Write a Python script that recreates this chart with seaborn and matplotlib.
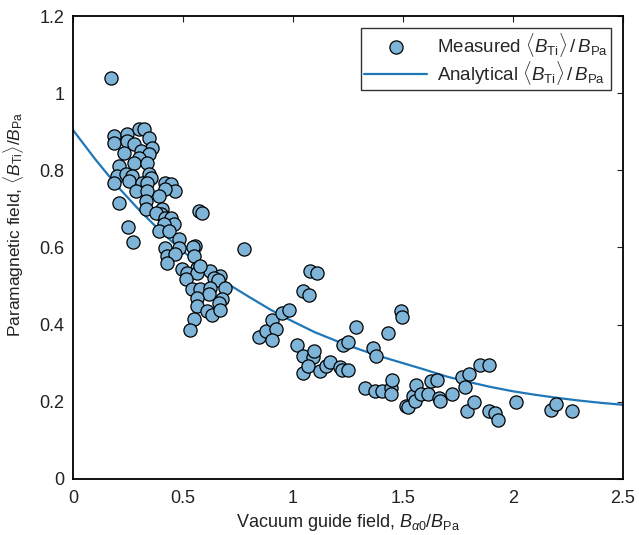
import matplotlib
matplotlib.use("Agg")
import numpy as np
import pandas as pd
import matplotlib.pyplot as plt
from matplotlib.ticker import FuncFormatter
import seaborn as sns

# measured points
meas_x = [
    0.172, 0.187, 0.187, 0.248, 0.248, 0.300, 0.323, 0.346, 0.361, 0.278,
    0.232, 0.308, 0.346, 0.300, 0.278, 0.338, 0.210, 0.202, 0.240, 0.270,
    0.346, 0.355, 0.187, 0.255, 0.316, 0.338, 0.421, 0.448, 0.466, 0.285,
    0.338, 0.421, 0.391, 0.331, 0.210, 0.331, 0.406, 0.399, 0.376, 0.572,
    0.587, 0.421, 0.444, 0.459, 0.413, 0.391, 0.436, 0.250, 0.275, 0.481,
    0.421, 0.481, 0.557, 0.548, 0.429, 0.466, 0.549, 0.429, 0.776, 0.497,
    0.565, 0.520, 0.625, 0.670, 0.565, 0.580, 0.512, 0.640, 0.660, 0.693,
    0.542, 0.580, 0.625, 0.617, 0.565, 0.678, 0.663, 0.565, 0.610, 0.633,
    0.670, 0.549, 0.534,
    0.844, 0.879, 0.904, 0.924, 0.904, 0.950, 0.980, 1.018, 1.045, 1.075,
    1.078, 1.111, 1.048, 1.093, 1.096, 1.045, 1.070, 1.123, 1.150, 1.168,
    1.214, 1.221, 1.251, 1.229, 1.251, 1.285, 1.327, 1.362, 1.377, 1.372,
    1.403, 1.430, 1.445, 1.445, 1.448, 1.489, 1.496,
    1.513, 1.523, 1.546, 1.553, 1.558, 1.584, 1.614, 1.629, 1.654, 1.664,
    1.670, 1.724, 1.769, 1.780, 1.799, 1.792, 1.825, 1.848, 1.893, 1.889,
    1.920, 1.934, 2.014, 2.173, 2.195, 2.270,
]
meas_y = [
    1.040, 0.889, 0.872, 0.894, 0.876, 0.906, 0.906, 0.885, 0.859, 0.868,
    0.846, 0.850, 0.842, 0.833, 0.820, 0.820, 0.811, 0.785, 0.790, 0.785,
    0.790, 0.780, 0.768, 0.772, 0.768, 0.768, 0.768, 0.764, 0.746, 0.746,
    0.746, 0.751, 0.733, 0.720, 0.716, 0.699, 0.699, 0.686, 0.690, 0.694,
    0.690, 0.677, 0.677, 0.660, 0.660, 0.642, 0.642, 0.654, 0.615, 0.621,
    0.599, 0.599, 0.603, 0.600, 0.577, 0.582, 0.577, 0.560, 0.597, 0.543,
    0.547, 0.534, 0.538, 0.525, 0.534, 0.551, 0.517, 0.521, 0.515, 0.495,
    0.491, 0.491, 0.495, 0.478, 0.469, 0.465, 0.456, 0.448, 0.435, 0.426,
    0.439, 0.415, 0.387,
    0.368, 0.383, 0.411, 0.389, 0.361, 0.430, 0.437, 0.346, 0.488, 0.476,
    0.538, 0.534, 0.318, 0.316, 0.331, 0.274, 0.292, 0.279, 0.292, 0.304,
    0.290, 0.283, 0.283, 0.346, 0.354, 0.394, 0.236, 0.338, 0.318, 0.229,
    0.229, 0.377, 0.236, 0.221, 0.255, 0.435, 0.420,
    0.188, 0.185, 0.214, 0.201, 0.242, 0.221, 0.221, 0.253, 0.255, 0.210,
    0.203, 0.221, 0.264, 0.238, 0.273, 0.177, 0.198, 0.294, 0.294, 0.177,
    0.171, 0.153, 0.199, 0.179, 0.194, 0.177,
]

# analytical curve, every 0.1
curve_x = [0.0, 0.1, 0.2, 0.3, 0.4, 0.5, 0.6, 0.7, 0.8, 0.9, 1.0, 1.1, 1.2,
           1.3, 1.4, 1.5, 1.6, 1.7, 1.8, 1.9, 2.0, 2.1, 2.2, 2.3, 2.4, 2.5]
curve_y = [0.905, 0.830, 0.760, 0.698, 0.641, 0.590, 0.546, 0.507, 0.472,
           0.438, 0.408, 0.380, 0.357, 0.336, 0.317, 0.300, 0.283, 0.265,
           0.251, 0.238, 0.227, 0.218, 0.210, 0.203, 0.197, 0.192]

x_ticks = [0, 0.5, 1, 1.5, 2, 2.5]
y_ticks = [0, 0.2, 0.4, 0.6, 0.8, 1.0, 1.2]

sns.set_style("white")
plt.rcParams['font.family'] = ['Liberation Sans', 'DejaVu Sans']
plt.rcParams['mathtext.fontset'] = 'custom'
plt.rcParams['mathtext.rm'] = 'Liberation Sans'
plt.rcParams['mathtext.it'] = 'Liberation Sans:italic'
plt.rcParams['mathtext.bf'] = 'Liberation Sans:bold'

meas_df = pd.DataFrame({'x': meas_x, 'y': meas_y})
curve_df = pd.DataFrame({'x': curve_x, 'y': curve_y})

ratio = r'$\langle B_{\rm Ti}\rangle\,/\,B_{\rm Pa}$'
fs = 13
txt = '#222222'

fig, ax = plt.subplots(figsize=(6.39, 5.35), dpi=100)
fig.subplots_adjust(left=0.114, right=0.975, bottom=0.105, top=0.970)

sns.lineplot(data=curve_df, x='x', y='y', ax=ax, color='#1f77b8',
             linewidth=1.6, label='Analytical ' + ratio, zorder=2)
sns.scatterplot(data=meas_df, x='x', y='y', ax=ax, s=90,
                color='#7db4d8', edgecolor='black', linewidth=0.9,
                label='Measured ' + ratio, zorder=3)

ax.set_xlim(0, 2.5)
ax.set_ylim(0, 1.2)
ax.set_xticks(x_ticks)
ax.set_yticks(y_ticks)
fmt = FuncFormatter(lambda v, _: f'{v:g}')
ax.xaxis.set_major_formatter(fmt)
ax.yaxis.set_major_formatter(fmt)
ax.tick_params(direction='in', top=True, right=True, length=4, width=0.8,
               labelsize=fs, colors=txt)
ax.tick_params(axis='x', pad=8)
ax.tick_params(axis='y', pad=6)

for sp in ax.spines.values():
    sp.set_linewidth(1.3)
    sp.set_color('black')

ax.set_xlabel(r'Vacuum guide field, $B_{\alpha 0}/B_{\rm Pa}$', fontsize=fs,
              color=txt, labelpad=4)
ax.set_ylabel(r'Paramagnetic field, $\langle B_{\rm Ti}\rangle / B_{\rm Pa}$',
              fontsize=12.5, color=txt)
ax.yaxis.set_label_coords(-0.085, 0.55)

handles, labels = ax.get_legend_handles_labels()
leg = ax.legend(handles[::-1], labels[::-1], loc='upper right', fontsize=13.5,
                frameon=True, fancybox=False, borderaxespad=0.65,
                handlelength=3.4, handletextpad=0.5, borderpad=0.15,
                labelspacing=0.0)
leg.get_frame().set_edgecolor('black')
leg.get_frame().set_linewidth(1.0)

plt.savefig('out.png', dpi=100)
